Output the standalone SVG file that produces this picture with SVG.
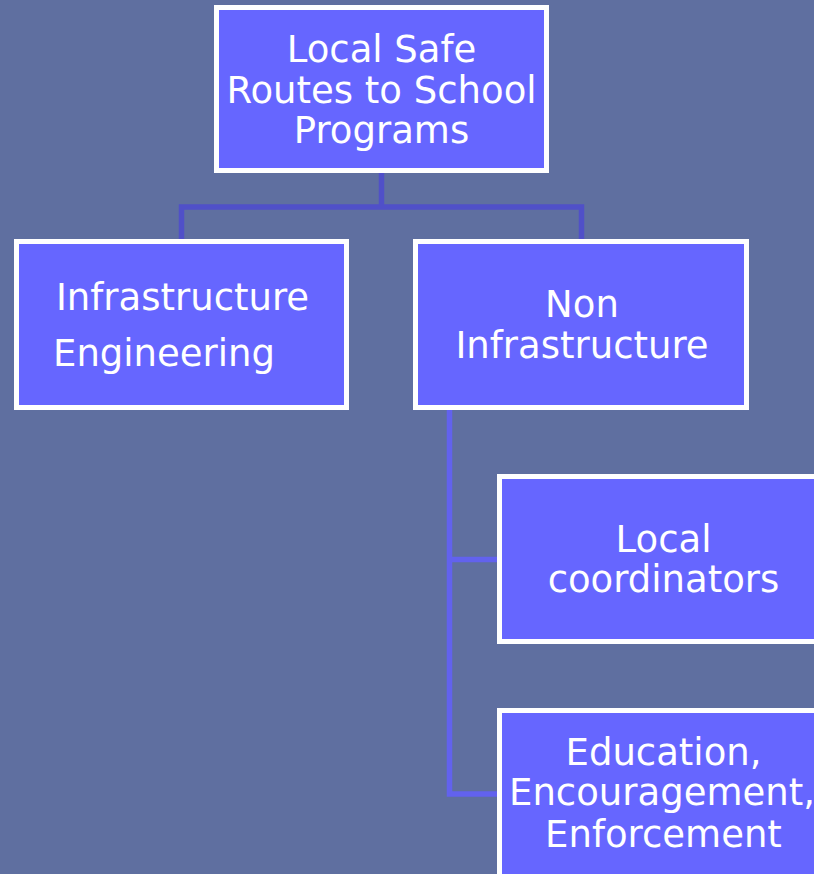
<svg xmlns="http://www.w3.org/2000/svg" width="814" height="874" viewBox="0 0 814 874">
<style>
.bg{fill:#5f6fa0}
.box{fill:#6666ff;stroke:#ffffff;stroke-width:5}
.t{font-family:"DejaVu Sans","Verdana",sans-serif;font-size:37px;fill:#ffffff;text-anchor:middle}
.c1{fill:none;stroke:#5050c8;stroke-width:5.5}
.c2{fill:none;stroke:#6262ee;stroke-width:5.5}
</style>
<rect class="bg" x="0" y="0" width="814" height="874"/>
<g id="connectors">
<path class="c1" d="M381.5,173 V207 M181.5,241 V207 H581.5 V241"/>
<path class="c2" d="M449.5,408 V794 H499 M449.5,559.5 H499"/>
</g>
<g id="root">
<rect class="box" x="216.5" y="7.5" width="330" height="163"/>
<text class="t" x="381.5" y="62">Local Safe</text>
<text class="t" x="381.5" y="103">Routes to School</text>
<text class="t" x="381.5" y="143">Programs</text>
</g>
<g id="infra">
<rect class="box" x="16.5" y="241.5" width="330" height="166"/>
<text class="t" x="182.5" y="310">Infrastructure</text>
<text class="t" x="53" y="366" style="text-anchor:start">Engineering</text>
</g>
<g id="noninfra">
<rect class="box" x="415.5" y="241.5" width="331" height="166"/>
<text class="t" x="582" y="317">Non</text>
<text class="t" x="582" y="358">Infrastructure</text>
</g>
<g id="coordinators">
<rect class="box" x="499.5" y="476.5" width="340" height="165"/>
<text class="t" x="663.5" y="552">Local</text>
<text class="t" x="663.5" y="592">coordinators</text>
</g>
<g id="education">
<rect class="box" x="499.5" y="710.5" width="340" height="180"/>
<text class="t" x="663.5" y="765">Education,</text>
<text class="t" x="662" y="805">Encouragement,</text>
<text class="t" x="663.5" y="847">Enforcement</text>
</g>
</svg>
